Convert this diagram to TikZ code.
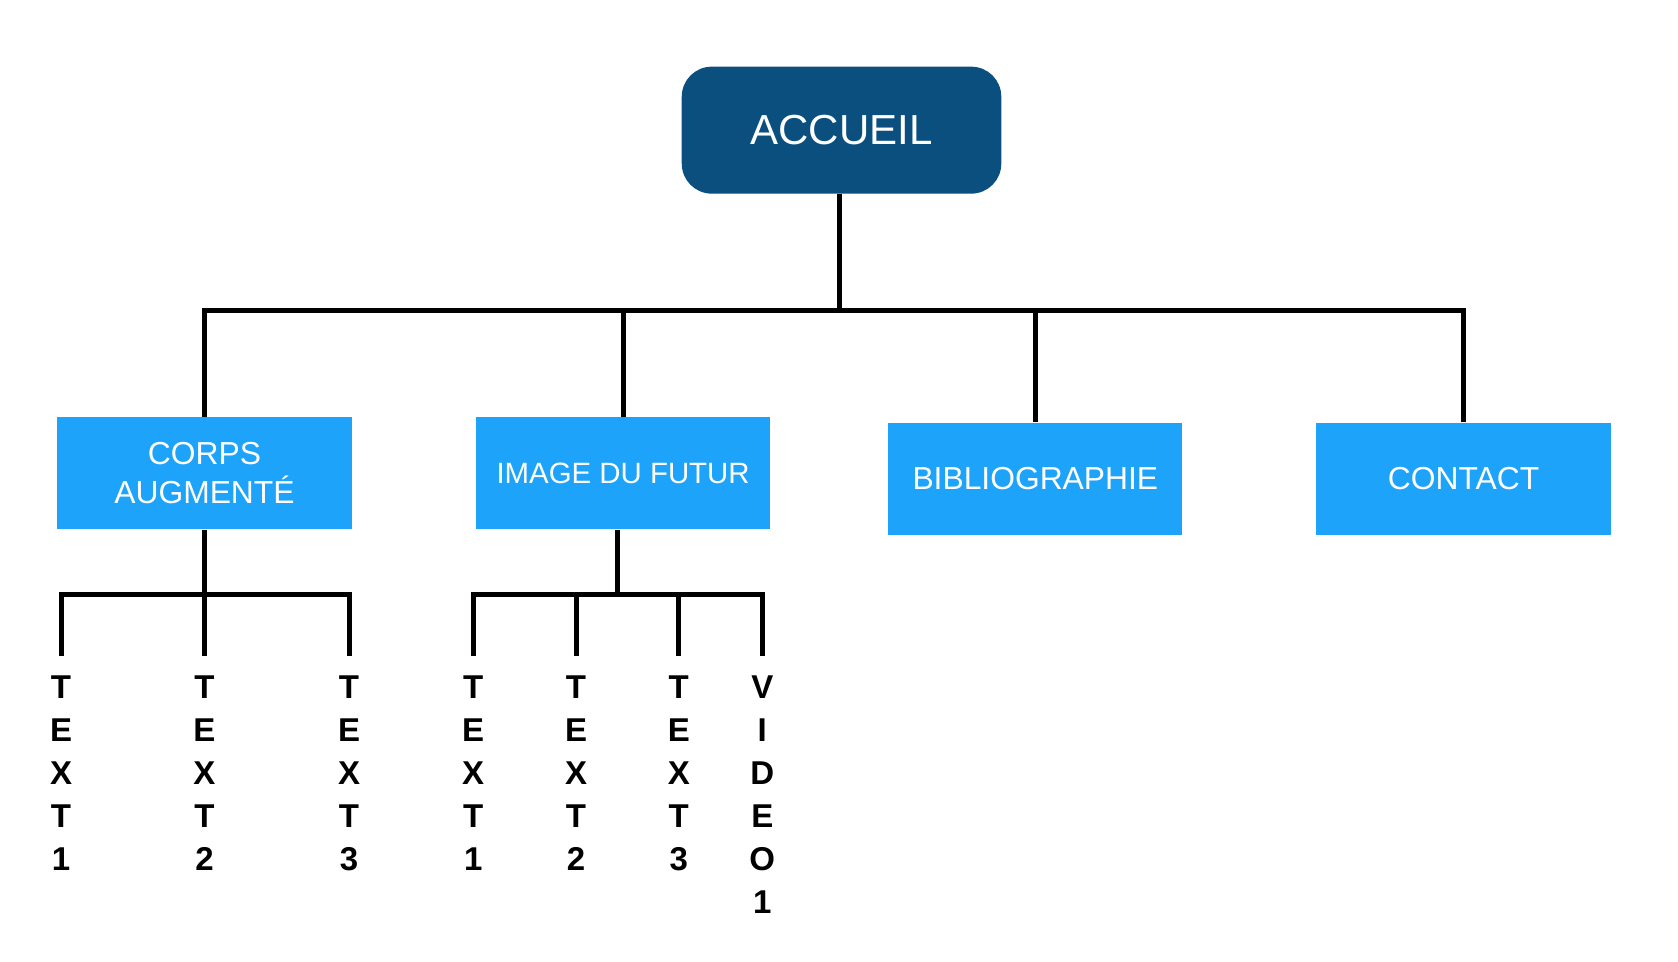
\documentclass[tikz,border=0pt]{standalone}
\usepackage{fontspec}
\setmainfont{Liberation Sans}
\definecolor{homeblue}{HTML}{0B4F7E}
\definecolor{pageblue}{HTML}{1DA3FA}

\begin{document}
\begin{tikzpicture}[x=0.5354pt, y=-0.5379pt,
	home/.style={fill=homeblue, rounded corners=15pt, minimum width=159.8pt, minimum height=63.5pt, text=white, font=\fontsize{21}{25}\selectfont},
	page/.style={fill=pageblue, minimum width=147.2pt, minimum height=55.9pt, text=white, align=center, font=\fontsize{15.9}{19.4}\selectfont},
	letters/.style={anchor=north, inner sep=0pt, outer xsep=0pt, outer ysep=9.7pt, align=center, font=\bfseries\fontsize{16.5}{21.5}\selectfont},
	link/.style={line width=2.5pt}]
	\useasboundingbox (0,0) rectangle (1567.3,894);

	% Accueil
	\node[home] (accueil) at (786,121) {ACCUEIL};

	% Pages
	\node[page] (corps) at (191,440) {CORPS\\AUGMENTÉ};
	\node[page, font=\fontsize{14.7}{18}\selectfont] (image) at (582,440) {IMAGE DU FUTUR};
	\node[page] (biblio) at (967,445) {BIBLIOGRAPHIE};
	\node[page] (contact) at (1367,445) {CONTACT};

	% Top bus
	\coordinate (bus) at (784,289);
	\draw[link] (accueil.south -| bus) -- (bus);
	\draw[link] (corps.north) |- (bus) -| (contact.north);
	\draw[link] (image.north) -- (image.north |- bus);
	\draw[link] (biblio.north) -- (biblio.north |- bus);

	% Corps augmente texts
	\node[letters] (c1) at (57,610) {T\\E\\X\\T\\1};
	\node[letters] (c2) at (191,610) {T\\E\\X\\T\\2};
	\node[letters] (c3) at (326,610) {T\\E\\X\\T\\3};
	\coordinate (cbus) at (191,553);
	\draw[link] (corps.south) -- (cbus);
	\draw[link] (c1.north) |- (cbus) -| (c3.north);
	\draw[link] (c2.north) -- (cbus);

	% Image du futur texts
	\node[letters] (i1) at (442,610) {T\\E\\X\\T\\1};
	\node[letters] (i2) at (538,610) {T\\E\\X\\T\\2};
	\node[letters] (i3) at (634,610) {T\\E\\X\\T\\3};
	\node[letters] (i4) at (712,610) {V\\I\\D\\E\\O\\1};
	\coordinate (ibus) at (577,553);
	\draw[link] (ibus |- image.south) -- (ibus);
	\draw[link] (i1.north) |- (ibus) -| (i4.north);
	\draw[link] (i2.north) -- (i2.north |- ibus);
	\draw[link] (i3.north) -- (i3.north |- ibus);
\end{tikzpicture}
\end{document}
